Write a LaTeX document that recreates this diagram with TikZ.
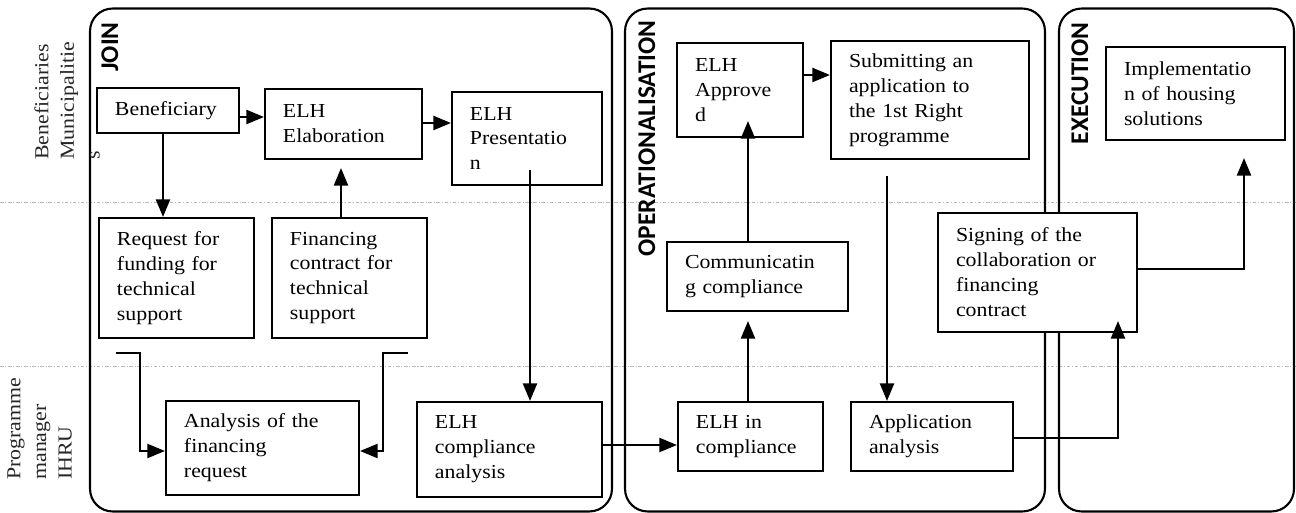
\documentclass[tikz,border=0pt]{standalone}
\usepackage{fontspec}
\setmainfont{Liberation Serif}[FakeStretch=1.1]
\newfontfamily\lblfont{Carlito}
\usetikzlibrary{arrows.meta,calc}
\hyphenpenalty=10000
\exhyphenpenalty=10000
\newcommand\mybox[6]{%
  \pgfmathsetmacro\bcx{(#2+#4)/2}%
  \pgfmathsetmacro\bcy{(#3+#5)/2}%
  \pgfmathsetmacro\bw{(#4-#2)*0.02-0.72}%
  \pgfmathsetmacro\bh{(#5-#3)*0.02}%
  \node[box,text width=\bw cm,minimum height=\bh cm] (#1) at (\bcx,\bcy) {#6};}
\tikzset{
  box/.style={draw, fill=white, line width=1.2pt, align=left, inner xsep=0.36cm, inner ysep=0pt,
    font=\fontsize{11.3}{14.2}\selectfont},
  phase/.style={draw, line width=1.2pt, rounded corners=0.45cm, inner sep=0pt},
  phlbl/.style={font=\lblfont\bfseries\fontsize{14.5}{16}\selectfont, inner sep=0pt, rotate=90, anchor=base east},
  lanelbl/.style={font=\fontsize{11.3}{14.6}\selectfont, align=left, inner sep=0pt, rotate=90, anchor=north west, text=black!85},
  lane/.style={draw=gray!55, line width=0.5pt, dash pattern=on 2pt off 1pt on 0.6pt off 1pt},
  arr/.style={line width=1.2pt, -{Triangle[length=10pt,width=8pt]}}
}
\begin{document}
\begin{tikzpicture}[x=0.02cm,y=-0.02cm]
\useasboundingbox (0,0) rectangle (1296,513);
% lanes
\draw[lane] (0,202) -- (1296,202);
\draw[lane] (0,366) -- (1296,366);
% phases
\node[phase, minimum width=10.44cm, minimum height=10.06cm] (join) at (351,260) {};
\node[phase, minimum width=8.4cm, minimum height=10.06cm] (oper) at (835,260) {};
\node[phase, minimum width=4.7cm, minimum height=10.06cm] (exec) at (1176.5,260) {};
\node[phlbl] (tjoin) at (118,22) {JOIN};
\node[phlbl] (toper) at (655,20) {OPERATIONALISATION};
\node[phlbl] (texec) at (1088,22) {EXECUTION};
% lane labels
\node[lanelbl] (lane1) at (34,160) {Beneficiaries\\Municipalitie\\s};
\node[lanelbl] (lane2) at (7,480) {Programme\\manager\\IHRU};
% boxes
\mybox{benef}{97}{88}{239}{133}{Beneficiary}
\mybox{elab}{265}{89}{422}{159}{ELH\\Elaboration}
\mybox{pres}{452}{92}{602}{185}{ELH\\Presentatio\\n}
\mybox{req}{99}{218}{254}{338}{Request for\\funding for\\technical\\support}
\mybox{fin}{272}{218}{427}{338}{Financing\\contract for\\technical\\support}
\mybox{ana}{166}{401}{359}{495}{Analysis of the\\financing\\request}
\mybox{eca}{417}{402}{602}{497}{ELH\\compliance\\analysis}
\mybox{appr}{677}{43}{803}{137}{ELH\\Approve\\d}
\mybox{sub}{831}{41}{1029}{159}{Submitting an\\application to\\the 1st Right\\programme}
\mybox{comm}{667}{242}{848}{311}{Communicatin\\g compliance}
\mybox{eic}{678}{402}{823}{471}{ELH in\\compliance}
\mybox{aan}{851}{402}{1013}{471}{Application\\analysis}
\mybox{sig}{938}{213}{1137}{332}{Signing of the\\collaboration or\\financing\\contract}
\mybox{impl}{1106}{47}{1285}{140}{Implementatio\\n of housing\\solutions}
% connectors
\draw[arr] (benef.east |- 0,117) -- (elab.west |- 0,117);
\draw[arr] (elab.east |- 0,123) -- (pres.west |- 0,123);
\draw[arr] (benef.south -| 163,0) -- (req.north -| 163,0);
\draw[arr, shorten >=0.16cm] (fin.north -| 341,0) -- (elab.south -| 341,0);
\coordinate (r1) at (116,353);
\draw[arr] (r1) -- (140,353) |- (ana.west |- 0,451);
\coordinate (f1) at (408,353);
\draw[arr] (f1) -- (383,353) |- (ana.east |- 0,451);
\coordinate (p1) at (530,170);
\draw[arr] (p1) -- (eca.north -| p1);
\draw[arr] (eca.east |- 0,445) -- (eic.west |- 0,445);
\draw[arr, shorten >=0.18cm] (eic.north -| 748,0) -- (comm.south -| 748,0);
\draw[arr, shorten >=-0.34cm] (comm.north -| 748,0) -- (appr.south -| 748,0);
\draw[arr] (appr.east |- 0,75) -- (sub.west |- 0,75);
\coordinate (s1) at (887,176);
\draw[arr] (s1) -- (aan.north -| s1);
\draw[arr, shorten >=-0.24cm] (aan.east |- 0,438) -| (sig.south -| 1118,0);
\draw[arr, shorten >=0.34cm] (sig.east |- 0,269) -| (impl.south -| 1244,0);
\end{tikzpicture}
\end{document}
